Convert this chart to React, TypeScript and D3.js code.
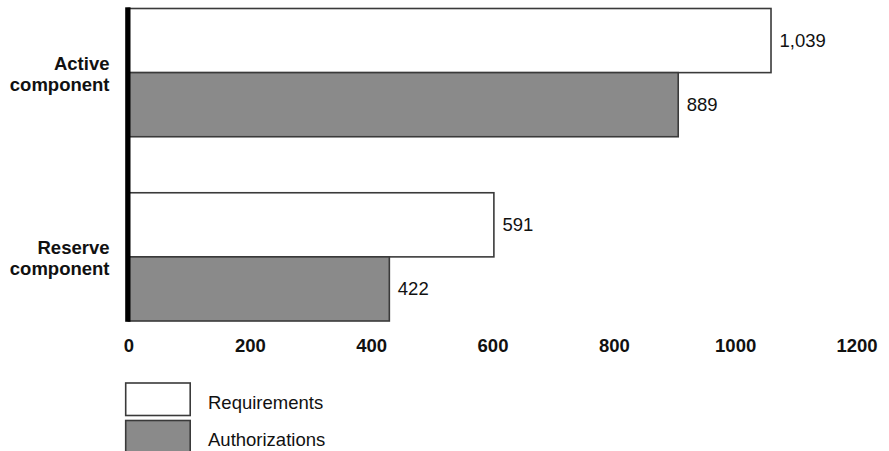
import React from "react";
import * as d3 from "d3";

const categories = ["Active component", "Reserve component"];
const seriesNames = ["Requirements", "Authorizations"];
const requirements = [1039, 591];
const authorizations = [889, 422];
const tickValues = [0, 200, 400, 600, 800, 1000, 1200];

const W = 889;
const H = 451;
const FONT = "'Liberation Sans', Arial, Helvetica, sans-serif";
const fills = ["#ffffff", "#8a8a8a"];
const strokeCol = "#3a3a3a";
const FS = 18.5;

export default function App() {
  const x = d3.scaleLinear().domain([0, 1200]).range([128.3, 870.6]);
  const xTicks = d3.scaleLinear().domain([0, 1200]).range([129, 857]);
  const y = d3
    .scaleBand<string>()
    .domain(categories)
    .range([8.5, 321])
    .paddingInner(0.304)
    .paddingOuter(0);
  const ySub = d3
    .scaleBand<string>()
    .domain(seriesNames)
    .range([0, y.bandwidth()])
    .padding(0);
  const values = [requirements, authorizations];
  const fmt = d3.format(",");

  return (
    <svg
      width={W}
      height={H}
      style={{ position: "absolute", left: 0, top: 0, background: "#fff" }}
      fontFamily={FONT}
    >
      {categories.map((c, ci) => {
        const gy = y(c)!;
        const center = gy + y.bandwidth() / 2;
        const words = c.split(" ");
        return (
          <g key={c}>
            {seriesNames.map((s, si) => {
              const v = values[si][ci];
              const by = gy + ySub(s)!;
              const bh = ySub.bandwidth();
              return (
                <g key={s}>
                  <rect
                    x={x(0)}
                    y={by}
                    width={x(v) - x(0)}
                    height={bh}
                    fill={fills[si]}
                    stroke={strokeCol}
                    strokeWidth={1.6}
                  />
                  <text
                    x={x(v) + 8.5}
                    y={by + bh / 2 + 6.3}
                    fontSize={FS}
                    fill="#111"
                  >
                    {fmt(v)}
                  </text>
                </g>
              );
            })}
            <text
              x={109.5}
              textAnchor="end"
              fontSize={FS}
              fontWeight="bold"
              fill="#111"
            >
              <tspan x={109.5} y={center - 2.5}>
                {words[0]}
              </tspan>
              <tspan x={109.5} y={center + 18.5}>
                {words[1]}
              </tspan>
            </text>
          </g>
        );
      })}
      <rect x={125.2} y={7.3} width={5.3} height={314.5} fill="#000" />
      {tickValues.map((t) => (
        <text
          key={t}
          x={xTicks(t)}
          y={352}
          textAnchor="middle"
          fontSize={FS}
          fontWeight="bold"
          fill="#111"
        >
          {t}
        </text>
      ))}
      {seriesNames.map((s, si) => (
        <g key={s}>
          <rect
            x={125.7}
            y={383 + si * 37.5}
            width={64.5}
            height={32.5}
            fill={fills[si]}
            stroke={strokeCol}
            strokeWidth={1.6}
          />
          <text x={208} y={409 + si * 36.7} fontSize={FS} fill="#111">
            {s}
          </text>
        </g>
      ))}
    </svg>
  );
}
